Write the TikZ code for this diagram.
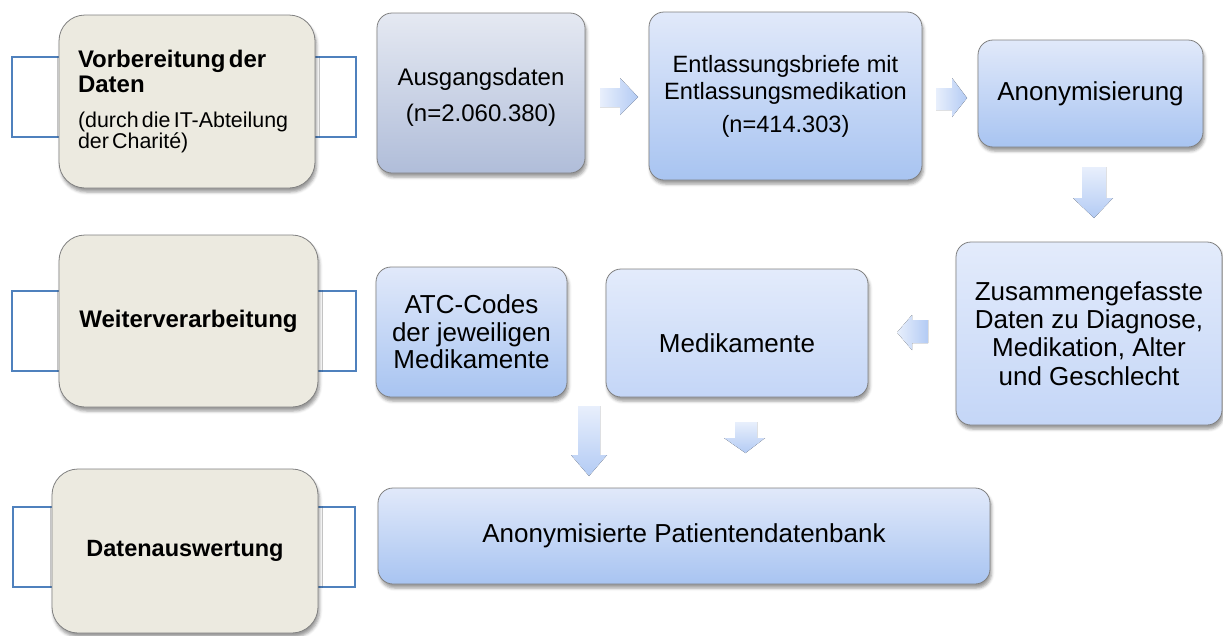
\documentclass[tikz,border=0pt]{standalone}
\usepackage{fontspec}
\setmainfont{Liberation Sans}
\usetikzlibrary{shadows,shadows.blur}
\definecolor{beige}{HTML}{ECEAE0}
\definecolor{bord}{HTML}{808080}
\definecolor{frameblue}{HTML}{4F81BD}
\definecolor{btop}{HTML}{E1E9FA}
\definecolor{bbot}{HTML}{A8C4F1}
\definecolor{gtop}{HTML}{E5E9F2}
\definecolor{gbot}{HTML}{B0BDD9}
\definecolor{ltop}{HTML}{E3EBFB}
\definecolor{lbot}{HTML}{C4D6F7}
\definecolor{atop}{HTML}{E8EFFC}
\definecolor{abot}{HTML}{B3CBF4}
\begin{document}
\begin{tikzpicture}[x=1pt,y=-1pt,
  shad/.style={blur shadow={shadow xshift=1.5pt,shadow yshift=-4pt,shadow opacity=40,shadow blur radius=3pt}},
  frame/.style={draw=frameblue, line width=1.2pt, fill=white, inner sep=0pt},
  phase/.style={draw=bord, line width=0.8pt, fill=beige, rounded corners=26pt, shad, inner sep=0pt},
  box/.style={draw=bord, line width=0.8pt, rounded corners=15pt, top color=btop, bottom color=bbot, shad,
    align=center, inner sep=0pt, font=\fontsize{26}{28.3}\selectfont},
  barrow/.style={draw=none}
]
\useasboundingbox (0,0) rectangle (1223,635);

% phase column
\node[frame, minimum width=344pt, minimum height=80pt] (f1) at (184,97) {};
\node[phase, minimum width=256pt, minimum height=173pt, text width=218pt, align=left] (p1) at (187,101.5)
  {\bfseries\fontsize{24}{25}\selectfont Vorbereitung der\\Daten\\[13pt]
   \mdseries\fontsize{21.4}{22}\selectfont (durch die IT-Abteilung\\der Charité)};

\node[frame, minimum width=344pt, minimum height=80pt] (f2) at (184,331) {};
\node[phase, minimum width=259pt, minimum height=172pt] (p2) at (188.5,321)
  {\bfseries\fontsize{24}{26}\selectfont Weiterverarbeitung};

\node[frame, minimum width=342pt, minimum height=80pt] (f3) at (184,547) {};
\node[phase, minimum width=266pt, minimum height=164pt] (p3) at (185,551)
  {\bfseries\fontsize{23.5}{25}\selectfont Datenauswertung};

% process boxes
\node[box, top color=gtop, bottom color=gbot, minimum width=208pt, minimum height=160pt,
  font=\fontsize{24}{36}\selectfont, text height=61pt] (aus) at (481,93) {Ausgangsdaten\\(n=2.060.380)};
\node[box, minimum width=273pt, minimum height=168pt, font=\fontsize{23.6}{27}\selectfont] (ent) at (785.5,96)
  {Entlassungsbriefe mit\\Entlassungsmedikation\\[6pt](n=414.303)};
\node[box, minimum width=225pt, minimum height=107pt] (anon) at (1090.5,93.5) {Anonymisierung};
\node[box, top color=ltop, bottom color=lbot, minimum width=266pt, minimum height=183pt] (zus) at (1089,333.5)
  {Zusammengefasste\\Daten zu Diagnose,\\Medikation, Alter\\und Geschlecht};
\node[box, minimum width=191pt, minimum height=130pt, font=\fontsize{26}{27.5}\selectfont] (atc) at (471.5,332)
  {ATC-Codes\\der jeweiligen\\Medikamente};
\node[box, top color=ltop, bottom color=lbot, minimum width=262pt, minimum height=128pt,
  text height=38pt, text depth=0pt] (med) at (737,333) {Medikamente};
\node[box, minimum width=612pt, minimum height=96pt] (pat) at (684,536) {Anonymisierte Patientendatenbank};

% block arrows
\fill[barrow, left color=atop, right color=abot]
  (600,88) -- (620,88) -- (620,78) -- (638,97) -- (620,115) -- (620,107) -- (600,107) -- cycle;
\fill[barrow, left color=atop, right color=abot]
  (936,88) -- (952,88) -- (952,78) -- (967,98) -- (952,117) -- (952,110) -- (936,110) -- cycle;
\fill[barrow, top color=atop, bottom color=abot]
  (1082,167) -- (1106,167) -- (1106,198) -- (1113,198) -- (1094,218) -- (1073,198) -- (1082,198) -- cycle;
\fill[barrow, left color=atop, right color=abot]
  (928,320) -- (912,320) -- (912,315) -- (897,332.5) -- (912,350) -- (912,343) -- (928,343) -- cycle;
\fill[barrow, top color=atop, bottom color=abot]
  (578,406) -- (600,406) -- (600,455) -- (607,455) -- (589,476) -- (571,455) -- (578,455) -- cycle;
\fill[barrow, top color=atop, bottom color=abot]
  (735,422) -- (757,422) -- (757,438) -- (765,438) -- (745.5,453) -- (724,438) -- (735,438) -- cycle;
\end{tikzpicture}
\end{document}
